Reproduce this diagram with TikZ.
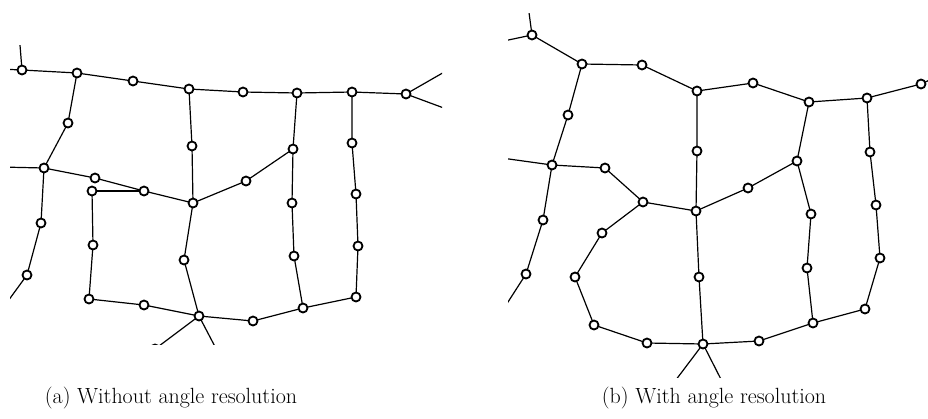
\documentclass[tikz,border=0pt]{standalone}
\begin{document}
\begin{tikzpicture}[x=1pt,y=-1pt,
  vtx/.style={circle,draw=black,fill=white,line width=1.8pt,inner sep=0pt,minimum size=9pt},
  edge/.style={line width=1.2pt,black},
  captext/.style={anchor=base,font=\fontsize{22}{26}\selectfont}]
\useasboundingbox (0,0) rectangle (928,418);
% ---------------- (a) ----------------
\begin{scope}
\clip (10,45) rectangle (442,344);
\foreach \n/\x/\y in {a1/22/70,a2/77/73,a3/133/81,a4/189/89,a5/243/92,a6/297/93,a7/352/92,a8/406/94,
  a9/68/123,a10/44/168,a11/95/178,a12/144/191,a13/92/191,a14/193/203,a15/192/146,a16/246/181,
  a17/293/149,a18/292/203,a19/294/256,a20/303/308,a21/352/143,a22/356/194,a23/358/246,a24/356/297,
  a25/253/321,a26/199/316,a27/184/260,a28/144/305,a29/89/299,a30/93/245,a31/41/223,a32/27/275,a33/155/349}
  {\coordinate (\n) at (\x,\y);}
\coordinate (sa1) at (18,20);
\coordinate (sa2) at (0,69);
\coordinate (sa3) at (0,167);
\coordinate (sa4) at (0,312);
\coordinate (sa5) at (460,63);
\coordinate (sa6) at (460,114);
\coordinate (sa7) at (222,360);
\draw[edge] (sa1)--(a1) (sa2)--(a1) (sa3)--(a10) (sa4)--(a32) (sa5)--(a8) (sa6)--(a8) (sa7)--(a26);
\draw[edge] (a1)--(a2)--(a3)--(a4)--(a5)--(a6)--(a7)--(a8);
\draw[edge] (a2)--(a9)--(a10)--(a11)--(a12)--(a14);
\draw[edge] (a13)--(a12);
\draw[edge] (a13)--(a30)--(a29)--(a28)--(a26);
\draw[edge] (a10)--(a31)--(a32);
\draw[edge] (a4)--(a15)--(a14)--(a16)--(a17);
\draw[edge] (a14)--(a27)--(a26);
\draw[edge] (a6)--(a17)--(a18)--(a19)--(a20);
\draw[edge] (a7)--(a21)--(a22)--(a23)--(a24);
\draw[edge] (a24)--(a20)--(a25)--(a26)--(a33);
\foreach \n in {a1,a2,a3,a4,a5,a6,a7,a8,a9,a10,a11,a12,a13,a14,a15,a16,a17,a18,a19,a20,a21,a22,a23,a24,a25,a26,a27,a28,a29,a30,a31,a32,a33}
  \node[vtx] (v\n) at (\n) {};
\end{scope}
% ---------------- (b) ----------------
\begin{scope}
\clip (508,13) rectangle (928,377);
\foreach \n/\x/\y in {b1/532/35,b2/582/64,b3/642/65,b4/697/91,b5/753/83,b6/809/102,b7/867/98,b8/921/84,b9/934/78,
  b10/568/115,b11/552/165,b12/605/168,b13/643/202,b14/696/211,b15/697/151,b16/602/233,b17/575/277,
  b18/594/325,b19/647/343,b20/703/344,b21/699/277,b22/543/220,b23/526/274,b24/748/188,b25/797/161,
  b26/811/214,b27/807/268,b28/813/323,b29/759/341,b30/870/152,b31/876/205,b32/880/258,b33/865/309}
  {\coordinate (\n) at (\x,\y);}
\coordinate (sb1) at (526,-10);
\coordinate (sb2) at (480,46);
\coordinate (sb3) at (480,155);
\coordinate (sb4) at (490,330);
\coordinate (sb5) at (663,397);
\coordinate (sb6) at (730,397);
\draw[edge] (sb1)--(b1) (sb2)--(b1) (sb3)--(b11) (sb4)--(b23) (sb5)--(b20) (sb6)--(b20);
\draw[edge] (b1)--(b2)--(b3)--(b4)--(b5)--(b6)--(b7)--(b8)--(b9);
\draw[edge] (b2)--(b10)--(b11);
\draw[edge] (b11)--(b12)--(b13)--(b14);
\draw[edge] (b13)--(b16)--(b17)--(b18)--(b19)--(b20);
\draw[edge] (b4)--(b15)--(b14)--(b21)--(b20);
\draw[edge] (b14)--(b24)--(b25);
\draw[edge] (b6)--(b25)--(b26)--(b27)--(b28);
\draw[edge] (b7)--(b30)--(b31)--(b32)--(b33)--(b28);
\draw[edge] (b28)--(b29)--(b20);
\draw[edge] (b11)--(b22)--(b23);
\foreach \n in {b1,b2,b3,b4,b5,b6,b7,b8,b9,b10,b11,b12,b13,b14,b15,b16,b17,b18,b19,b20,b21,b22,b23,b24,b25,b26,b27,b28,b29,b30,b31,b32,b33}
  \node[vtx] (v\n) at (\n) {};
\end{scope}
\node[captext] (capa) at (171,403) {(a) Without angle resolution};
\node[captext] (capb) at (714,403) {(b) With angle resolution};
\end{tikzpicture}
\end{document}
